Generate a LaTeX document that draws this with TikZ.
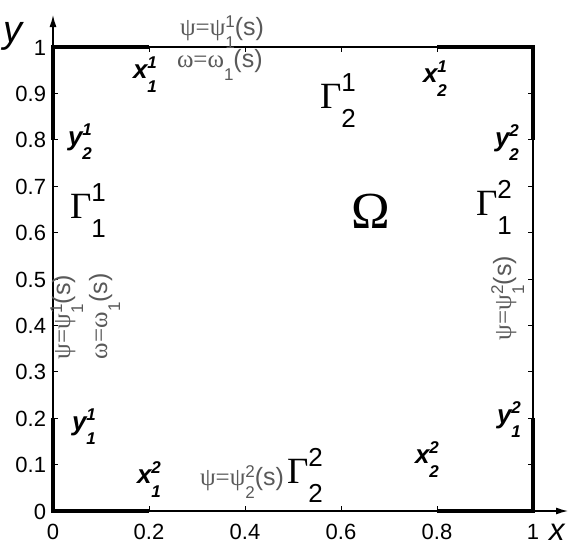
\documentclass[tikz,border=0pt]{standalone}
\usepackage{fontspec}
\setmainfont{Liberation Sans}
\newfontfamily\grk{Liberation Serif}
\usetikzlibrary{arrows.meta}
\newcommand\SupSub[5]{#1\rlap{\raisebox{#4}{#2}}\raisebox{-#5}{#3}}
\newcommand\iscr{\fontsize{17}{17}\selectfont}
\newcommand\gscr{\fontsize{26}{26}\selectfont}
\newcommand\pscr{\fontsize{17}{17}\selectfont}
\newcommand\IL[3]{\SupSub{#1}{\iscr #2}{\iscr #3}{10pt}{14pt}}
\newcommand\GL[2]{\SupSub{{\grk Γ}}{\gscr #1}{\gscr #2}{17pt}{19pt}}
\newcommand\PS[2]{\SupSub{}{\pscr #1}{\pscr #2}{8pt}{13pt}}
\tikzset{
  thinline/.style={line width=1.3pt},
  thickline/.style={line width=4.5pt,line join=miter},
  tickline/.style={line width=1pt},
  ticklab/.style={font=\fontsize{22}{22}\selectfont},
  ilab/.style={font=\fontsize{26}{26}\selectfont\itshape\bfseries,anchor=base west},
  glab/.style={font=\fontsize{37}{37}\selectfont,anchor=base west},
  plab/.style={font=\fontsize{25}{25}\selectfont,text=black!65,anchor=base west},
  axlab/.style={font=\fontsize{38}{38}\selectfont\itshape,anchor=base west},
  arr/.style={-{Latex[length=12pt,width=7pt]}}
}
\begin{document}
\begin{tikzpicture}[x=1pt,y=-1pt,every node/.style={inner sep=0pt,outer sep=0pt}]
\useasboundingbox (0,0) rectangle (578,546);
% corners
\coordinate (o) at (53,511);
\coordinate (tl) at (53,47);
\coordinate (tr) at (533,47);
\coordinate (br) at (533,511);
\coordinate (xend) at (568,511);
\coordinate (yend) at (53,15);
% thin box
\draw[thinline] (tl) -- (tr) -- (br);
% axes
\draw[thinline,arr] (o) -- (xend);
\draw[thinline,arr] (o) -- (yend);
% thick parts
\coordinate (l8) at (53,139.8);
\coordinate (l2) at (53,418.2);
\coordinate (r8) at (533,139.8);
\coordinate (r2) at (533,418.2);
\coordinate (t2) at (149,47);
\coordinate (t8) at (437,47);
\coordinate (b2) at (149,511);
\coordinate (b8) at (437,511);
\draw[thickline] (l8) -- (tl) -- (t2);
\draw[thickline] (t8) -- (tr) -- (r8);
\draw[thickline] (r2) -- (br) -- (b8);
\draw[thickline] (b2) -- (o) -- (l2);
% ticks
\foreach \i in {0,...,5} {
  \draw[tickline] (53+96*\i,511) -- ++(0,-5);
  \draw[tickline] (53+96*\i,47) -- ++(0,5);
}
\foreach \i in {0,...,10} {
  \draw[tickline] (53,511-46.4*\i) -- ++(5,0);
  \draw[tickline] (533,511-46.4*\i) -- ++(-5,0);
}
% tick labels
\foreach \i/\t in {0/0,1/0.2,2/0.4,3/0.6,4/0.8,5/1}
  \node[ticklab,anchor=base] (xt\i) at (53+96*\i,539) {\t};
\foreach \i/\t in {0/0,1/0.1,2/0.2,3/0.3,4/0.4,5/0.5,6/0.6,7/0.7,8/0.8,9/0.9,10/1}
  \node[ticklab,anchor=base east] (yt\i) at (46,519-46.4*\i) {\t};
% axis labels
\node[axlab] (ylab) at (4,42) {y};
\node[axlab,font=\fontsize{31}{31}\selectfont\itshape] (xlab) at (549,540) {x};
% point labels
\node[ilab] (x11) at (133,78) {\IL{x}{1}{1}};
\node[ilab] (x21) at (423,82) {\IL{x}{1}{2}};
\node[ilab] (y21) at (68,145) {\IL{y}{1}{2}};
\node[ilab] (y22) at (495,146) {\IL{y}{2}{2}};
\node[ilab] (y11) at (72,430) {\IL{y}{1}{1}};
\node[ilab] (y12) at (497,423) {\IL{y}{2}{1}};
\node[ilab] (x12) at (137,483) {\IL{x}{2}{1}};
\node[ilab] (x22) at (415,463) {\IL{x}{2}{2}};
% boundary labels
\node[glab] (G11) at (70,218) {\GL{1}{1}};
\node[glab] (G21) at (320,108) {\GL{1}{2}};
\node[glab] (G12) at (476,215) {\GL{2}{1}};
\node[glab] (G22) at (287,483) {\GL{2}{2}};
\node[glab,font=\fontsize{52}{52}\selectfont\grk] (Om) at (351,228) {Ω};
% condition labels
\node[plab] (ptop) at (180,35) {{\grk ψ=ψ}\PS{1}{1}(s)};
\node[plab] (wtop) at (177,67) {{\grk ω=ω}\PS{}{1}(s)};
\node[plab] (pbot) at (200,485) {{\grk ψ=ψ}\PS{2}{2}(s)};
\node[plab,rotate=90] (pleft) at (70,359) {{\grk ψ=ψ}\PS{1}{1}(s)};
\node[plab,rotate=90] (wleft) at (107,359) {{\grk ω=ω}\PS{}{1}(s)};
\node[plab,rotate=90] (pright) at (511,340) {{\grk ψ=ψ}\PS{2}{1}(s)};
\end{tikzpicture}
\end{document}
